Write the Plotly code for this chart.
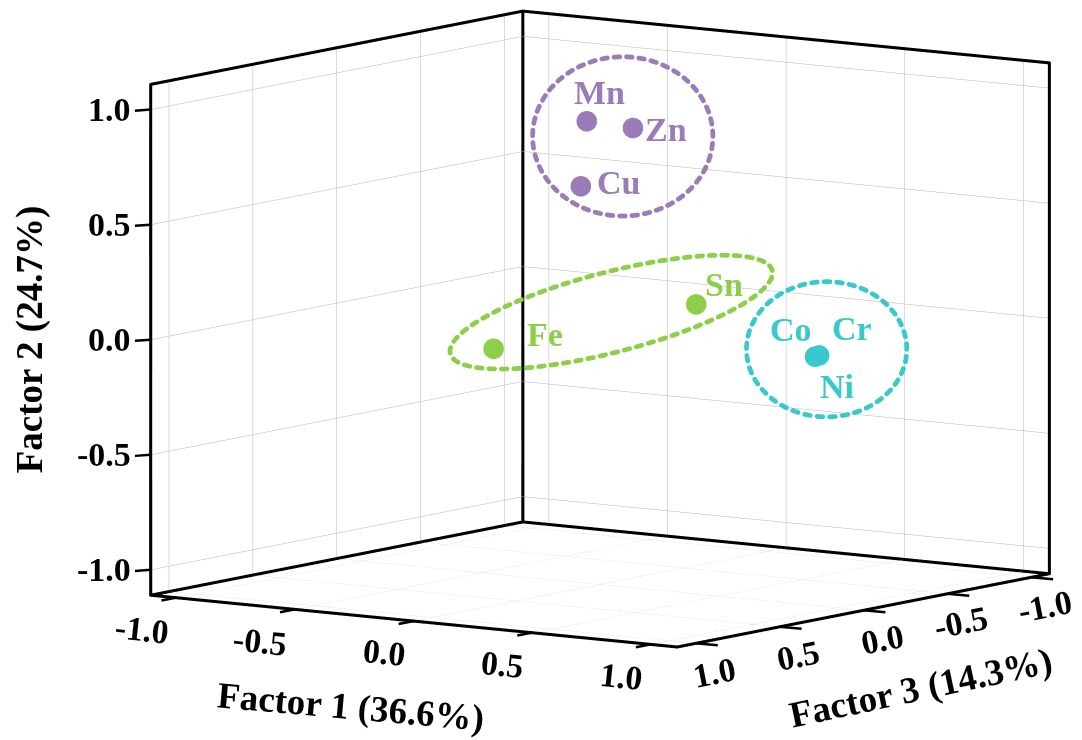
import numpy as np
import plotly.graph_objects as go

# ---------------- data ----------------
elements = ["Mn", "Zn", "Cu", "Fe", "Sn", "Co", "Cr", "Ni"]
factor1 = [0.014, 0.138, -0.011, 0.116, 0.758, 0.900, 0.905, 0.895]
factor2 = [0.920, 0.889, 0.635, 0.042, 0.257, -0.028, -0.025, -0.030]
factor3 = [0.100, 0.000, 0.100, 0.800, 0.500, -0.020, -0.025, -0.015]
groups = ["G1", "G1", "G1", "G2", "G2", "G3", "G3", "G3"]

tick_vals = [-1.0, -0.5, 0.0, 0.5, 1.0]
tick_text = ["-1.0", "-0.5", "0.0", "0.5", "1.0"]
axis_range = [-1.11, 1.11]
titles = {"f1": "Factor 1 (36.6%)", "f2": "Factor 2 (24.7%)", "f3": "Factor 3 (14.3%)"}

# ---------------- styles ----------------
group_colors = {"G1": "#9A7DB8", "G2": "#8DCF49", "G3": "#37C9CC"}
label_shift = {"Mn": (13, 28), "Zn": (33, -2), "Cu": (38, 3), "Fe": (52, 14),
               "Sn": (28, 19), "Co": (-26, 26), "Cr": (33, 26), "Ni": (22, -30)}
ellipse_style = {"G1": (22.7, 8.5, 90, 79.5, 0.0),
                 "G2": (16.5, 14.2, 166, 40, 14.5),
                 "G3": (9.7, 6.5, 80, 67.5, 0.0)}
# axis-title placement: (pixel shift right, pixel shift up, text angle)
title_style = {"f1": (-63, -86, 5), "f3": (58, -78, -12), "f2": (-121, 0, -90)}
# tick-label placement: (xanchor, shift right, shift up, angle)
ticklabel_style = {"f1": ("right", -4, -32, 6), "f3": ("right", 46, -29, -11), "f2": ("right", -18, 0, 0)}
tick_len = 0.1  # tick mark length in data units (3D, pointing outwards)

FONT = "Liberation Serif"
el = np.radians(8.0)
az = np.radians(35.25)
eye_dist = 2.0
zoom = 1.96
aspect = dict(x=1.0 * zoom, y=1.0 * zoom, z=0.8 * zoom)
px_per_unit = 290.0
marker_size = 12
dash_marker = 2.8
edge_marker = 1.8
tick_font_size = 34
title_font_size = 37
label_font_size = 34

eye_dir = np.array([np.cos(el) * np.cos(az), np.cos(el) * np.sin(az), np.sin(el)])
eye = eye_dir * eye_dist
r_vec = np.array([-np.sin(az), np.cos(az), 0.0])
u_vec = np.array([-np.sin(el) * np.cos(az), -np.sin(el) * np.sin(az), np.cos(el)])
z_ratio = aspect["z"] / aspect["x"]


def to_norm(v):
    return np.array([v[0], v[1], v[2] * z_ratio])


def to_data(n):
    return np.array([n[0], n[1], n[2] / z_ratio])


def screen(v):
    n = to_norm(v)
    return np.array([n @ r_vec, n @ u_vec]) * px_per_unit


def from_screen(sx, sy):
    return to_data(sx * r_vec + sy * u_vec) / px_per_unit


lo, hi = axis_range
view_data = to_data(eye_dir)


def push_inside(p, margin=0.01):
    """slide a point along the line of sight so it lies inside the axis box
    (same screen position, but not clipped by the axis ranges)."""
    a, b = lo + margin, hi - margin
    tmin, tmax = -np.inf, np.inf
    for i in range(3):
        t1 = (a - p[i]) / view_data[i]
        t2 = (b - p[i]) / view_data[i]
        tmin = max(tmin, min(t1, t2))
        tmax = min(tmax, max(t1, t2))
    if tmin > tmax:
        t = 0.5 * (tmin + tmax)
    elif tmin <= 0 <= tmax:
        t = 0.0
    else:
        t = tmin if tmin > 0 else tmax
    return p + t * view_data


X = np.array(factor3)  # plotly x = Factor 3
Y = np.array(factor1)  # plotly y = Factor 1
Z = np.array(factor2)  # plotly z = Factor 2

fig = go.Figure()

# ---- frame edges drawn as rows of small black dots (thick solid line look) ----
eps = 1e-4
a_, b_ = lo + eps, hi - eps
Lc, Fc, Rc, Bc = (b_, a_), (b_, b_), (a_, b_), (a_, a_)
edges = []
for p, q in [(Lc, Fc), (Fc, Rc), (Rc, Bc), (Bc, Lc)]:
    edges.append(((p[0], p[1], a_), (q[0], q[1], a_)))
for p in [Lc, Bc, Rc]:
    edges.append(((p[0], p[1], a_), (p[0], p[1], b_)))
for p, q in [(Lc, Bc), (Bc, Rc)]:
    edges.append(((p[0], p[1], b_), (q[0], q[1], b_)))
ex, ey, ez = [], [], []
for p, q in edges:
    p, q = np.array(p, float), np.array(q, float)
    n = int(np.hypot(*(screen(q) - screen(p))) / 1.0) + 1
    for s in np.linspace(0, 1, n + 1):
        v = p + s * (q - p)
        ex.append(v[0]); ey.append(v[1]); ez.append(v[2])
fig.add_trace(go.Scatter3d(x=ex, y=ey, z=ez, mode="markers",
                           marker=dict(size=edge_marker, color="black", line=dict(width=0)),
                           hoverinfo="skip", showlegend=False))

# ---- dashed ellipses around groups (dashes built from small round dots) ----
t = np.linspace(0, 2 * np.pi, 4001)
dash_on, dash_period, dot_step = 5.5, 12.5, 1.1
for g, (dx, dy, a, b, rot) in ellipse_style.items():
    idx = [i for i, gg in enumerate(groups) if gg == g]
    c = np.array([X[idx].mean(), Y[idx].mean(), Z[idx].mean()]) + from_screen(dx, dy)
    th = np.radians(rot)
    sx = a * np.cos(t) * np.cos(th) - b * np.sin(t) * np.sin(th)
    sy = a * np.cos(t) * np.sin(th) + b * np.sin(t) * np.cos(th)
    arc = np.concatenate([[0], np.cumsum(np.hypot(np.diff(sx), np.diff(sy)))])
    n_per = max(1, int(round(arc[-1] / dash_period)))
    per = arc[-1] / n_per
    targets = []
    for k in range(n_per):
        targets.extend(k * per + np.arange(0, dash_on + 1e-9, dot_step))
    targets = np.array(targets)
    px = np.interp(targets, arc, sx)
    py = np.interp(targets, arc, sy)
    pts = np.array([push_inside(c + from_screen(u, v)) for u, v in zip(px, py)])
    fig.add_trace(go.Scatter3d(x=pts[:, 0], y=pts[:, 1], z=pts[:, 2], mode="markers",
                               marker=dict(size=dash_marker, color=group_colors[g], line=dict(width=0)),
                               hoverinfo="skip", showlegend=False))

# ---- points ----
for g in group_colors:
    idx = [i for i, gg in enumerate(groups) if gg == g]
    fig.add_trace(go.Scatter3d(x=X[idx], y=Y[idx], z=Z[idx], mode="markers",
                               marker=dict(size=marker_size, color=group_colors[g], opacity=1,
                                           line=dict(width=0)),
                               text=[elements[i] for i in idx], hoverinfo="text",
                               showlegend=False))

annotations = []
for i, name in enumerate(elements):
    sx_, sy_ = label_shift[name]
    annotations.append(dict(x=X[i], y=Y[i], z=Z[i], text=name, showarrow=False,
                            xshift=sx_, yshift=sy_,
                            font=dict(family=FONT, size=label_font_size,
                                      color=group_colors[groups[i]], weight="bold")))

# axis titles, anchored at the middle of their axis edge
title_anchor = {"f1": (hi, 0.0, lo), "f3": (0.0, hi, lo), "f2": (hi, lo, 0.0)}
for key, (sx_, sy_, ang) in title_style.items():
    ax_, ay_, az_ = title_anchor[key]
    annotations.append(dict(x=ax_, y=ay_, z=az_, text=titles[key], showarrow=False,
                            xshift=sx_, yshift=sy_, textangle=ang,
                            font=dict(family=FONT, size=title_font_size, color="black",
                                      weight="bold")))

# tick marks and tick labels on the three visible axis edges
tick_edges = {
    "f1": (lambda v: np.array([b_, v, a_]), np.array([tick_len, 0, 0])),   # along Factor 1
    "f3": (lambda v: np.array([v, b_, a_]), np.array([0, tick_len, 0])),   # along Factor 3
    "f2": (lambda v: np.array([b_, a_, v]), np.array([0.6 * tick_len, -0.3 * tick_len, 0])),  # vertical
}
for key, (pos, outward) in tick_edges.items():
    anchor, sx_, sy_, ang = ticklabel_style[key]
    d = screen(outward)
    for v, txt in zip(tick_vals, tick_text):
        p = pos(v)
        annotations.append(dict(x=p[0], y=p[1], z=p[2], text="", showarrow=True,
                                ax=d[0], ay=-d[1], arrowhead=0, arrowwidth=2.5,
                                arrowcolor="black", standoff=0, startstandoff=0))
        annotations.append(dict(x=p[0], y=p[1], z=p[2], text=txt, showarrow=False,
                                xanchor=anchor, xshift=sx_, yshift=sy_, textangle=ang,
                                font=dict(family=FONT, size=tick_font_size, color="black",
                                          weight="bold")))


def axis():
    return dict(title=dict(text=""),
                range=axis_range, autorange=False,
                tickvals=tick_vals, ticktext=tick_text,
                showticklabels=False, ticks="",
                showgrid=True, gridcolor="#b4b4b4", gridwidth=1,
                showline=False,
                showbackground=False, zeroline=False, showspikes=False)


fig.update_layout(
    width=1082, height=740,
    margin=dict(l=0, r=0, t=0, b=0),
    paper_bgcolor="white",
    scene=dict(
        domain=dict(x=[0.109, 1.0], y=[0.111, 1.0]),
        xaxis=axis(),
        yaxis=axis(),
        zaxis=axis(),
        aspectmode="manual",
        aspectratio=aspect,
        bgcolor="white",
        camera=dict(eye=dict(x=eye[0], y=eye[1], z=eye[2]),
                    up=dict(x=0, y=0, z=1), center=dict(x=0, y=0, z=0),
                    projection=dict(type="orthographic")),
        annotations=annotations,
    ),
)

fig.write_html("out.html")
